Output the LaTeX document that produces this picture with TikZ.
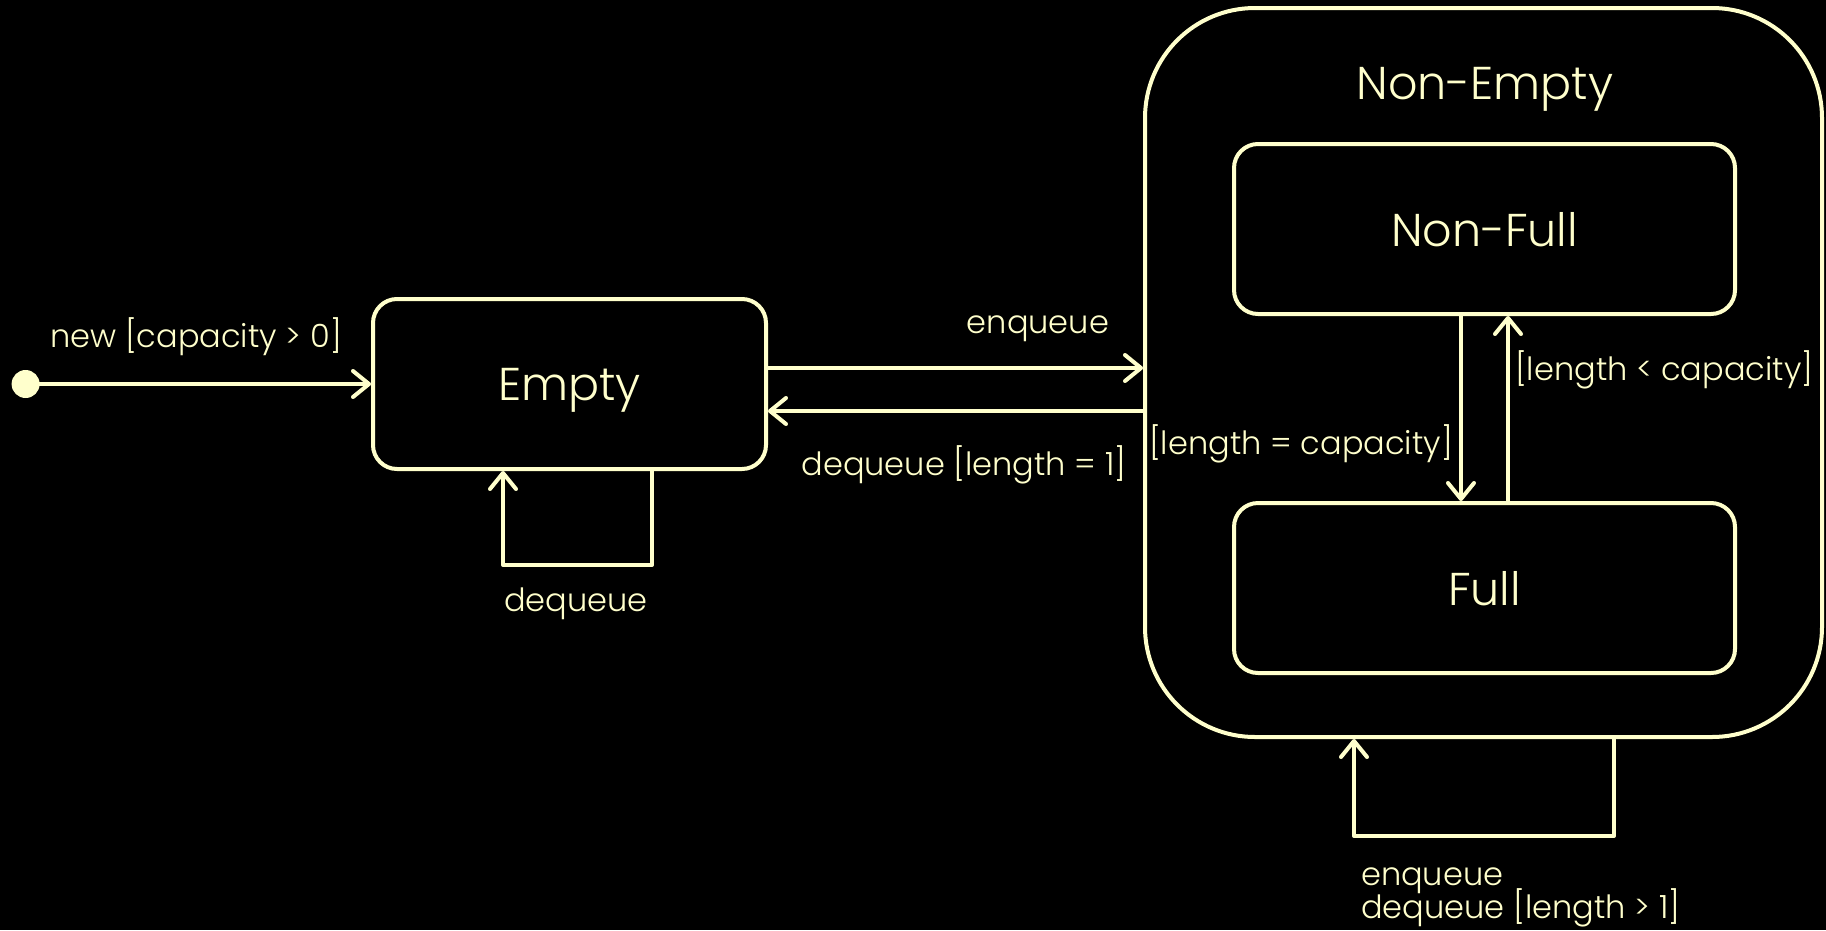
\documentclass[tikz,border=0pt]{standalone}
\usepackage{fontspec}
\setmainfont{Poppins}[UprightFont=* Light]
\usetikzlibrary{arrows.meta}
\definecolor{cream}{HTML}{FFFFCC}
\begin{document}
\begin{tikzpicture}[x=1pt,y=-1pt,
  every node/.style={text=cream},
  bigfont/.style={font=\fontsize{46}{52}\selectfont},
  statebox/.style={draw=cream, line width=4pt, rounded corners=24pt, minimum width=501pt, minimum height=170pt, inner sep=0pt, text depth=0pt, bigfont},
  lbl/.style={font=\fontsize{32}{33}\selectfont, inner sep=0pt, anchor=base},
  conn/.style={draw=cream, line width=4pt, line cap=round, line join=round, -{Straight Barb[length=16pt,width=26pt,round]}}
]
\fill[black] (0,0) rectangle (1826,930);
\useasboundingbox (0,0) rectangle (1826,930);

\node[fill=cream, circle, minimum size=28pt, inner sep=0pt] (init) at (25.6,384) {};
\node[statebox, minimum width=393pt] (empty) at (569.5,384) {Empty};
\node[draw=cream, line width=4pt, rounded corners=110pt, minimum width=677pt, minimum height=729pt, inner sep=0pt] (ne) at (1483.5,372.5) {};
\node[bigfont, inner sep=0pt, text depth=0pt] (netitle) at (1485,83) {Non-Empty};
\node[statebox] (nf) at (1484.5,229) {Non-Full};
\node[statebox] (full) at (1484.5,588) {Full};

\draw[conn] (init) -- (empty.west);
\draw[conn] (empty.east |- 0,368) -- (ne.west |- 0,368);
\draw[conn] (ne.west |- 0,411) -- (empty.east |- 0,411);
\draw[conn] (empty.south -| 652,0) |- (503,565) -- (empty.south -| 503,0);
\draw[conn] (nf.south -| 1461,0) -- (full.north -| 1461,0);
\draw[conn] (full.north -| 1508,0) -- (nf.south -| 1508,0);
\draw[conn] (ne.south -| 1614,0) |- (1354,836) -- (ne.south -| 1354,0);

\node[lbl] (lnew) at (196,347) {new [capacity > 0]};
\node[lbl] (lenq) at (1038,333) {enqueue};
\node[lbl] (ldeq1) at (964,475) {dequeue [length = 1]};
\node[lbl] (ldeq) at (576,611) {dequeue};
\node[lbl, anchor=base east] (leq) at (1453,454) {[length = capacity]};
\node[lbl, anchor=base west] (llt) at (1515,380) {[length < capacity]};
\node[lbl, anchor=base west] (lloopa) at (1361,885) {enqueue};
\node[lbl, anchor=base west] (lloopb) at (1361,918) {dequeue [length > 1]};
\end{tikzpicture}
\end{document}
